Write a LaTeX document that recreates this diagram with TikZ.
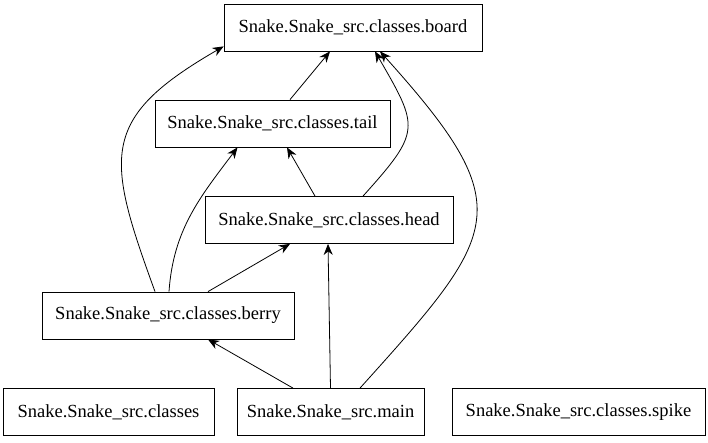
\documentclass[tikz,border=0pt]{standalone}
\usepackage{fontspec}
\setmainfont{Liberation Serif}
\usetikzlibrary{arrows.meta}

\begin{document}
\begin{tikzpicture}[x=1pt,y=-1pt,>={Stealth[length=11pt,width=9pt,inset=3.5pt]},
	module/.style={draw,thick,minimum height=47pt,inner sep=0pt,font=\fontsize{18.5pt}{21pt}\selectfont},
	dep/.style={thick,->}]

	% Fix the page size
	\useasboundingbox (0,0) rectangle (708,443);

	% Draw the modules
	\node[module,minimum width=258pt] (board) at (353,27.5) {Snake.Snake\_src.classes.board};
	\node[module,minimum width=235pt] (tail) at (272.5,123.5) {Snake.Snake\_src.classes.tail};
	\node[module,minimum width=248pt] (head) at (329,220) {Snake.Snake\_src.classes.head};
	\node[module,minimum width=252pt] (berry) at (168,315.5) {Snake.Snake\_src.classes.berry};
	\node[module,minimum width=211pt] (classes) at (108.5,412) {Snake.Snake\_src.classes};
	\node[module,minimum width=187pt] (main) at (330.5,412) {Snake.Snake\_src.main};
	\node[module,minimum width=253pt] (spike) at (578.5,412) {Snake.Snake\_src.classes.spike};

	% Draw the imports of tail and head
	\draw[dep] ([xshift=17.5]tail.north) -- ([xshift=-23]board.south);
	\draw[dep] ([xshift=-14]head.north) -- ([xshift=14.5]tail.south);
	\draw[dep] ([xshift=34]head.north) to[out=48,in=-60,looseness=1.55] ([xshift=22]board.south);

	% Draw the imports of berry
	\draw[dep] ([xshift=-13]berry.north) to[out=110,in=-150,looseness=1.45] ([yshift=5]board.south west);
	\draw[dep] ([xshift=1]berry.north) to[out=86,in=-127] ([xshift=-35]tail.south);
	\draw[dep] ([xshift=40]berry.north) -- ([xshift=-39]head.south);

	% Draw the imports of main
	\draw[dep] ([xshift=-37.5]main.north) -- ([xshift=40]berry.south);
	\draw[dep] (main.north) -- ([xshift=-1]head.south);
	\draw[dep] ([xshift=29.5]main.north) to[out=48,in=-48,looseness=1.6] ([xshift=27]board.south);

\end{tikzpicture}
\end{document}
